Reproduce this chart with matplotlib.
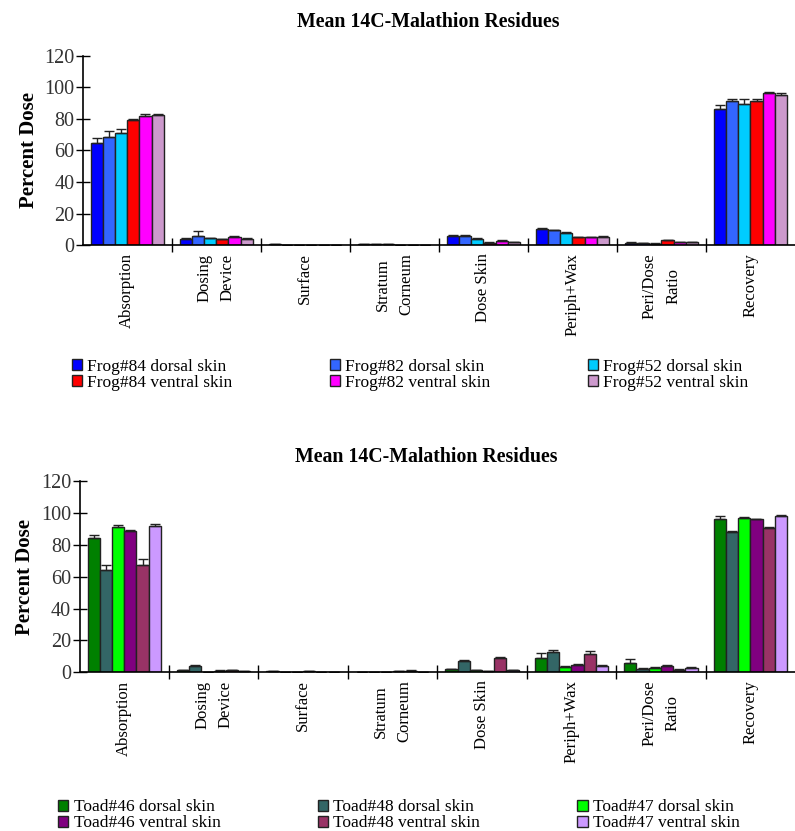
import numpy as np
import matplotlib
matplotlib.use('Agg')
import matplotlib.pyplot as plt

plt.rcParams['font.family'] = ['Liberation Serif', 'DejaVu Serif']

categories = ['Absorption', 'Dosing\nDevice', 'Surface', 'Stratum\nCorneum',
              'Dose Skin', 'Periph+Wax', 'Peri/Dose\nRatio', 'Recovery']

# Frog panel: order of bars within each group
frog_labels = ['Frog#84 dorsal skin', 'Frog#82 dorsal skin', 'Frog#52 dorsal skin',
               'Frog#84 ventral skin', 'Frog#82 ventral skin', 'Frog#52 ventral skin']
frog_colors = ['#0000ff', '#3366ff', '#00ccff', '#ff0000', '#ff00ff', '#cc99cc']
frog_means = [
    [64.6, 3.8, 0.5, 0.5, 5.9, 10.0, 1.5, 86.2],
    [68.8, 5.7, 0.3, 0.5, 5.6, 9.3, 1.4, 91.2],
    [71.1, 4.4, 0.2, 0.5, 4.2, 7.6, 1.0, 89.1],
    [79.4, 3.8, 0.2, 0.3, 1.5, 4.9, 3.0, 91.2],
    [81.7, 5.0, 0.2, 0.3, 2.7, 5.1, 1.7, 96.3],
    [82.3, 4.2, 0.2, 0.3, 2.0, 5.3, 2.1, 95.0],
]
frog_err = [
    [3.2, 0.5, 0.1, 0.1, 0.4, 0.6, 0.2, 2.8],
    [3.6, 3.0, 0.1, 0.1, 0.6, 0.5, 0.2, 1.1],
    [2.4, 0.4, 0.1, 0.1, 0.4, 0.5, 0.1, 3.2],
    [0.5, 0.3, 0.1, 0.1, 0.2, 0.3, 0.4, 1.4],
    [1.6, 0.6, 0.1, 0.1, 0.4, 0.3, 0.2, 0.4],
    [0.9, 0.4, 0.1, 0.1, 0.3, 0.4, 0.2, 1.3],
]

# Toad panel
toad_labels = ['Toad#46 dorsal skin', 'Toad#48 dorsal skin', 'Toad#47 dorsal skin',
               'Toad#46 ventral skin', 'Toad#48 ventral skin', 'Toad#47 ventral skin']
toad_colors = ['#008000', '#336666', '#00ff00', '#800080', '#993366', '#cc99ff']
toad_means = [
    [84.0, 1.5, 0.5, 0.2, 2.0, 9.0, 5.8, 96.3],
    [64.2, 4.2, 0.3, 0.2, 7.3, 12.5, 2.1, 88.1],
    [91.1, 0.3, 0.3, 0.2, 1.5, 3.3, 2.9, 96.9],
    [89.0, 1.0, 0.8, 0.5, 0.8, 4.6, 4.2, 96.0],
    [67.1, 1.5, 0.3, 1.0, 9.0, 11.5, 1.7, 90.6],
    [91.7, 0.5, 0.2, 0.3, 1.5, 4.0, 2.9, 98.4],
]
toad_err = [
    [2.5, 0.2, 0.1, 0.1, 0.3, 3.1, 2.5, 1.6],
    [2.9, 0.3, 0.1, 0.1, 0.4, 1.3, 0.3, 0.8],
    [1.6, 0.1, 0.1, 0.1, 0.2, 0.4, 0.3, 0.4],
    [0.6, 0.2, 0.1, 0.1, 0.2, 0.3, 0.3, 0.4],
    [3.8, 0.2, 0.1, 0.2, 0.9, 1.6, 0.2, 0.4],
    [1.2, 0.1, 0.1, 0.1, 0.2, 0.3, 0.4, 0.4],
]

yticks = [0, 20, 40, 60, 80, 100, 120]


def draw_panel(ax, means, errs, colors, labels, legend_anchor, title_pad, colspace):
    n = len(means)
    x = np.arange(len(categories)) + 0.5
    w = 0.82 / n
    handles = []
    for i in range(n):
        xi = x - 0.41 + w * (i + 0.5)
        e = np.array(errs[i])
        b = ax.bar(xi, means[i], w, color=colors[i], edgecolor='#222222', linewidth=1.0,
                   yerr=[np.zeros_like(e), e], capsize=3.5,
                   error_kw=dict(ecolor='#222222', elinewidth=1.0, capthick=1.0), zorder=2)
        handles.append(b)
    ax.set_xlim(0, len(categories))
    ax.set_ylim(0, 120)
    ax.set_yticks(yticks)
    ax.set_xticks(np.arange(1, len(categories)))
    ax.set_xticklabels([])
    ax.set_xticks(x, minor=True)
    ax.set_xticklabels(categories, minor=True, rotation=90, va='top', ha='center',
                       fontsize=12, linespacing=1.6)
    ax.tick_params(axis='x', which='minor', length=0, pad=6)
    ax.tick_params(axis='x', which='major', direction='inout', length=10, width=1)
    ax.tick_params(axis='y', direction='inout', length=10, width=1, labelsize=14.5,
                   pad=1, labelcolor='#333333')
    for s in ['top', 'right']:
        ax.spines[s].set_visible(False)
    for s in ['left', 'bottom']:
        ax.spines[s].set_linewidth(1.2)
    ax.set_ylabel('Percent Dose', fontsize=15, fontweight='bold', labelpad=4)
    ax.set_title('Mean 14C-Malathion Residues', fontsize=14.3, fontweight='bold',
                 pad=title_pad, x=0.485)
    order = [0, 3, 1, 4, 2, 5]
    ax.legend([handles[k] for k in order], [labels[k] for k in order], ncol=3,
              loc='upper left', bbox_to_anchor=legend_anchor,
              bbox_transform=ax.figure.transFigure, frameon=False, fontsize=12.5,
              handlelength=0.6, handleheight=0.6, handletextpad=0.3,
              labelspacing=0.0, columnspacing=colspace, borderpad=0, borderaxespad=0)


fig = plt.figure(figsize=(7.95, 8.31), dpi=100)
ax1 = fig.add_axes([0.104, 0.705, 0.896, 0.228])
ax2 = fig.add_axes([0.100, 0.191, 0.900, 0.230])

draw_panel(ax1, frog_means, frog_err, frog_colors, frog_labels, (0.090, 0.568), 21, 5.6)
draw_panel(ax2, toad_means, toad_err, toad_colors, toad_labels, (0.073, 0.038), 14, 5.6)

fig.savefig('out.png', dpi=100)
